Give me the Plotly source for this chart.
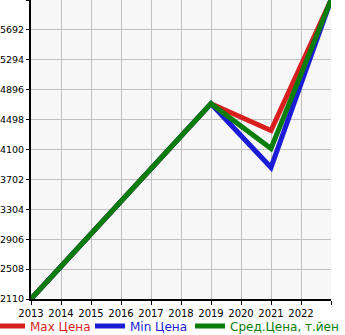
import plotly.graph_objects as go

years = [2013, 2019, 2021, 2023]
max_price = [2110, 4710, 4352, 6090]
min_price = [2110, 4710, 3861, 6090]
avg_price = [2110, 4710, 4113, 6090]

y_ticks = [2110, 2508, 2906, 3304, 3702, 4100, 4498, 4896, 5294, 5692, 6090]
y_labels = ["2110", "2508", "2906", "3304", "3702", "4100", "4498", "4896", "5294", "5692", ""]
x_ticks = list(range(2013, 2024))
x_labels = [str(y) for y in range(2013, 2023)] + [""]

W, H = 345, 335
L, R, T, B = 31, 14, 0, 36
PW = W - L - R

fig = go.Figure()
fig.add_trace(go.Scatter(x=years, y=max_price, mode="lines",
                         line=dict(color="#d81e1e", width=5), legend="legend",
                         name='<span style="color:#d81e1e">Max Цена</span>'))
fig.add_trace(go.Scatter(x=years, y=min_price, mode="lines",
                         line=dict(color="#1c1cd6", width=5), legend="legend2",
                         name='<span style="color:#1c1cd6">Min Цена</span>'))
fig.add_trace(go.Scatter(x=years, y=avg_price, mode="lines",
                         line=dict(color="#0a7d0a", width=5), legend="legend3",
                         name='<span style="color:#0a7d0a">Сред.Цена, т.йен</span>'))


def leg(px):
    return dict(orientation="h", xref="paper", yref="container",
                x=(px - L) / PW, xanchor="left", y=9 / H, yanchor="middle",
                font=dict(size=12), itemwidth=30, bgcolor="rgba(0,0,0,0)")


fig.update_layout(
    width=W, height=H,
    margin=dict(l=L, r=R, t=T, b=B, autoexpand=False),
    paper_bgcolor="white", plot_bgcolor="#f7f7f7",
    font=dict(family="DejaVu Sans", size=10, color="black"),
    showlegend=True,
    legend=leg(-10), legend2=leg(90), legend3=leg(190),
    xaxis=dict(range=[2013, 2023], tickvals=x_ticks, ticktext=x_labels,
               showgrid=True, gridcolor="#c0c0c0", gridwidth=1,
               showline=True, linecolor="black", linewidth=2,
               ticks="outside", ticklen=4, tickcolor="black", zeroline=False,
               tickfont=dict(size=10)),
    yaxis=dict(range=[2110, 6090], tickvals=y_ticks, ticktext=y_labels,
               showgrid=True, gridcolor="#c0c0c0", gridwidth=1,
               showline=True, linecolor="black", linewidth=2,
               ticks="outside", ticklen=3, tickcolor="black", zeroline=False,
               tickfont=dict(size=9.5)),
)

fig.write_html("out.html")
